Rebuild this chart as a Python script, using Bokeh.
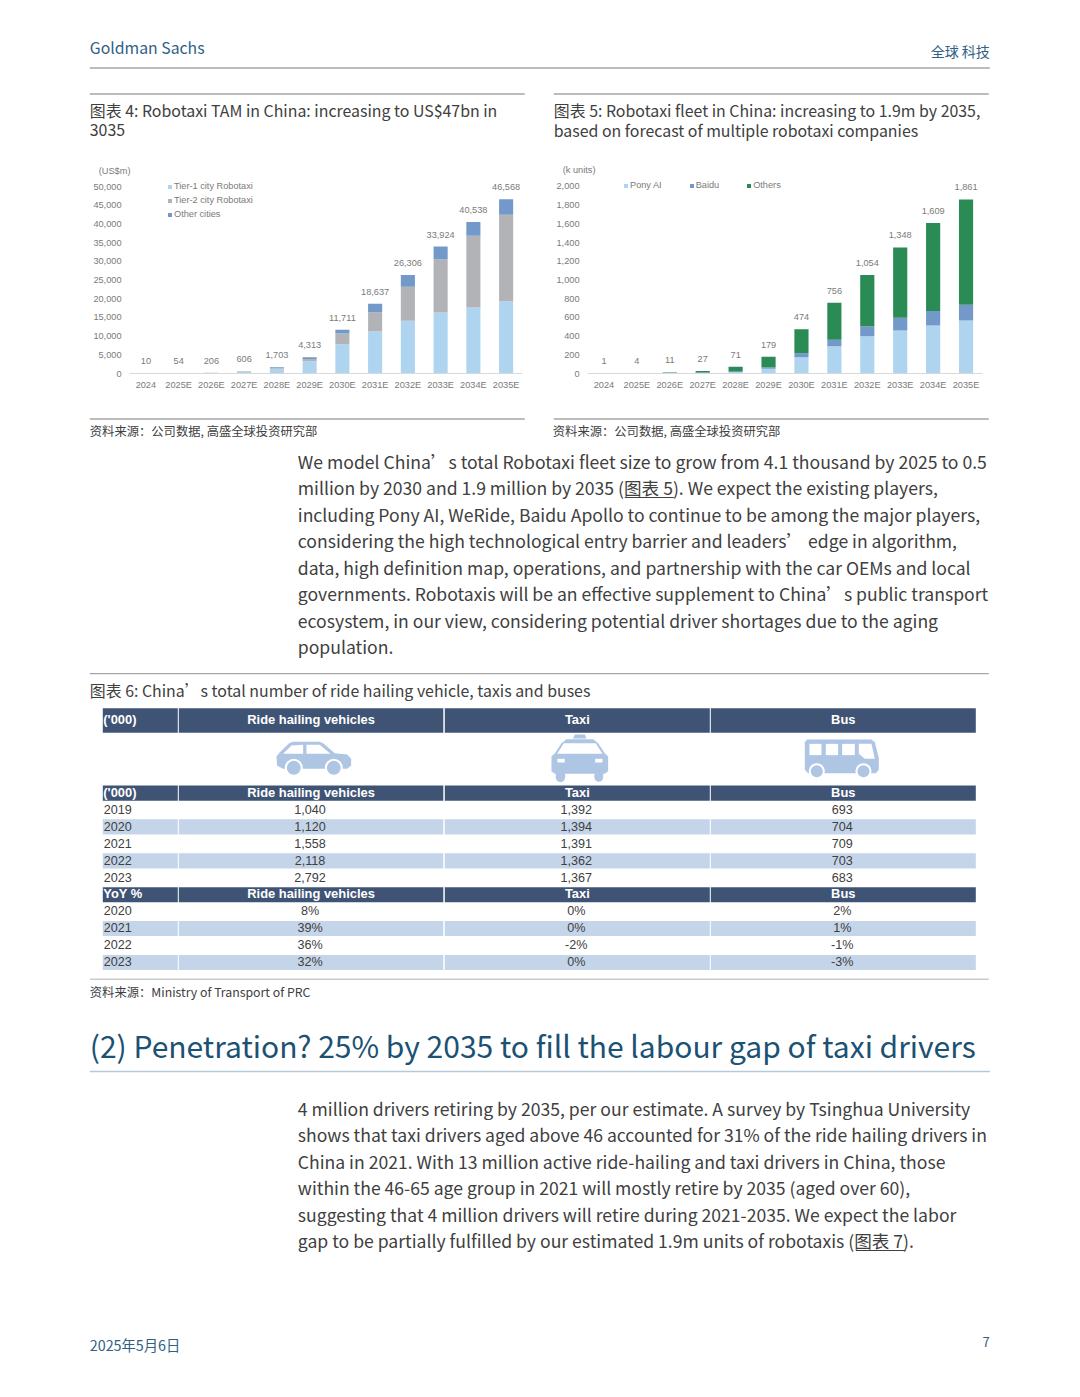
from bokeh.plotting import figure
from bokeh.layouts import column, row
from bokeh.models import Range1d, FactorRange, FixedTicker, NumeralTickFormatter, ColumnDataSource
from bokeh.core.properties import value
from bokeh.embed import file_html
from bokeh.resources import INLINE

# ---------- data ----------
years = ["2024","2025E","2026E","2027E","2028E","2029E","2030E","2031E","2032E","2033E","2034E","2035E"]
tam_tier1 = [7,40,150,450,1300,3300,7840,11230,14080,16310,17650,19340]
tam_tier2 = [2,7,30,80,200,600,2860,5170,9090,14260,19160,23080]
tam_other = [1,7,26,76,203,413,1011,2237,3136,3354,3728,4148]
tam_ticks = [0,5000,10000,15000,20000,25000,30000,35000,40000,45000,50000]

fleet_pony = [0.3,1,2,6,15,50,174,291,397,461,514,567]
fleet_baidu = [0.3,1,2,6,12,17,42,71,107,135,153,167]
fleet_others = [0.4,2,7,15,44,112,258,394,550,752,942,1127]
fleet_ticks = [0,200,400,600,800,1000,1200,1400,1600,1800,2000]

table_cols = ["Ride hailing vehicles","Taxi","Bus"]
level_years = ["2019","2020","2021","2022","2023"]
level_ride = ["1,040","1,120","1,558","2,118","2,792"]
level_taxi = ["1,392","1,394","1,391","1,362","1,367"]
level_bus = ["693","704","709","703","683"]
yoy_years = ["2020","2021","2022","2023"]
yoy_ride = ["8%","39%","36%","32%"]
yoy_taxi = ["0%","0%","-2%","0%"]
yoy_bus = ["2%","1%","-1%","-3%"]

body1 = ["We model China’s total Robotaxi fleet size to grow from 4.1 thousand by 2025 to 0.5",
 "million by 2030 and 1.9 million by 2035 (图表 5). We expect the existing players,",
 "including Pony AI, WeRide, Baidu Apollo to continue to be among the major players,",
 "considering the high technological entry barrier and leaders’ edge in algorithm,",
 "data, high definition map, operations, and partnership with the car OEMs and local",
 "governments. Robotaxis will be an effective supplement to China’s public transport",
 "ecosystem, in our view, considering potential driver shortages due to the aging",
 "population."]
body2 = ["4 million drivers retiring by 2035, per our estimate. A survey by Tsinghua University",
 "shows that taxi drivers aged above 46 accounted for 31% of the ride hailing drivers in",
 "China in 2021. With 13 million active ride-hailing and taxi drivers in China, those",
 "within the 46-65 age group in 2021 will mostly retire by 2035 (aged over 60),",
 "suggesting that 4 million drivers will retire during 2021-2035. We expect the labor",
 "gap to be partially fulfilled by our estimated 1.9m units of robotaxis (图表 7)."]

# ---------- layout constants ----------
W, TOP_H, CH_H = 1064, 176, 224
BODY = "Noto Sans CJK SC"
ARIAL = "Liberation Sans"
TXT, GREY = "#404040", "#7a7a7a"
RULE = "#a6a6a6"
TITLE_SZ, BODY_SZ, SRC_SZ = 15.9, 17.6, 12.3

def sheet(y0, y1):
    p = figure(width=W, height=y1-y0, x_range=Range1d(0.7, W+0.7), y_range=Range1d(y1, y0),
               x_axis_type=None, y_axis_type=None, toolbar_location=None, output_backend="svg",
               min_border=0, min_border_left=0, min_border_right=0, min_border_top=0, min_border_bottom=0)
    p.grid.visible = False
    p.outline_line_color = None
    return p

def put(p, x, y, t, size, color=TXT, font=BODY, align="left", style="normal"):
    shift = size*0.085 if font == BODY else 0.8
    p.text(x=[x], y=[y-shift], text=[t], text_font=value(font), text_font_size=f"{size}px",
           text_color=color, text_align=align, text_baseline="middle", text_font_style=style)

def rule(p, x0, x1, y, color=RULE, w=1.3):
    p.line([x0, x1], [y, y], line_color=color, line_width=w)

# ---------- top sheet ----------
top = sheet(0, TOP_H)
put(top, 90, 48, "Goldman Sachs", 15.8, "#2f6186")
put(top, 990, 52, "全球 科技", 14, "#2f6186", BODY, "right")
rule(top, 90, 990, 67.5)
rule(top, 90, 525, 93.5); rule(top, 554, 989, 93.5)
put(top, 90, 111, "图表 4: Robotaxi TAM in China: increasing to US$47bn in", TITLE_SZ)
put(top, 90, 131, "3035", TITLE_SZ)
put(top, 554, 111, "图表 5: Robotaxi fleet in China: increasing to 1.9m by 2035,", TITLE_SZ)
put(top, 554, 131, "based on forecast of multiple robotaxi companies", TITLE_SZ)
put(top, 99, 170.8, "(US$m)", 9.2, GREY, ARIAL)
put(top, 563, 170.5, "(k units)", 9.2, GREY, ARIAL)

# ---------- charts ----------
def chart(width, left, right, bottom, scale_px, ymax, ticks, series, names, colors, lx, ly, orient, spacing):
    frame_h = CH_H - 2 - bottom
    p = figure(width=width, height=CH_H, x_range=FactorRange(factors=years, range_padding=0, factor_padding=0),
               y_range=Range1d(0, ymax*frame_h/scale_px), toolbar_location=None, output_backend="svg",
               min_border_left=left, min_border_right=right, min_border_top=2, min_border_bottom=bottom)
    keys = ["a", "b", "c"]
    data = dict(x=years, **{k: s for k, s in zip(keys, series)})
    totals = [round(a+b+c) for a, b, c in zip(*series)]
    data["total"] = totals
    data["label"] = [f"{t:,}" for t in totals]
    src = ColumnDataSource(data)
    p.vbar_stack(keys, x="x", width=0.43, color=colors, source=src, legend_label=names, line_width=0)
    p.text(x="x", y="total", text="label", source=src, y_offset=-12, text_align="center", text_baseline="middle",
           text_font=value(ARIAL), text_font_size="9.2px", text_color=GREY)
    p.grid.visible = False
    p.outline_line_color = None
    p.yaxis.ticker = FixedTicker(ticks=ticks)
    p.yaxis.formatter = NumeralTickFormatter(format="0,0")
    p.yaxis.axis_line_color = None
    p.yaxis.major_tick_line_color = None
    p.yaxis.minor_tick_line_color = None
    p.xaxis.axis_line_color = "#d9d9d9"
    p.xaxis.major_tick_line_color = None
    p.xaxis.major_tick_out = 0
    p.yaxis.major_tick_out = 0
    p.xaxis.major_label_standoff = 6
    p.yaxis.major_label_standoff = 8
    for ax in (p.xaxis[0], p.yaxis[0]):
        ax.major_label_text_font = ARIAL
        ax.major_label_text_font_size = "9.2px"
        ax.major_label_text_color = GREY
    lg = p.legend[0]
    lg.location = (lx, ly)
    lg.orientation = orient
    lg.spacing = spacing
    lg.padding = 0
    lg.margin = 0
    lg.border_line_color = None
    lg.background_fill_alpha = 0
    lg.glyph_width = 5
    lg.glyph_height = 5
    lg.label_standoff = 2
    lg.label_height = 14
    lg.label_text_font = ARIAL
    lg.label_text_font_size = "9.2px"
    lg.label_text_color = GREY
    return p

left_chart = chart(536, 129, 14, 27, 187, 50000, tam_ticks, (tam_tier1, tam_tier2, tam_other),
                   ["Tier-1 city Robotaxi", "Tier-2 city Robotaxi", "Other cities"],
                   ["#aed4f0", "#b1b3b7", "#7299c9"], 38, 152, "vertical", 0)
right_chart = chart(528, 51, 82, 26, 188, 2000, fleet_ticks, (fleet_pony, fleet_baidu, fleet_others),
                    ["Pony AI", "Baidu", "Others"],
                    ["#aed4f0", "#7299c9", "#2a8b54"], 36, 181, "horizontal", 27)

# ---------- lower sheet ----------
low = sheet(400, 1380)
rule(low, 90, 525, 418.5); rule(low, 554, 989, 418.5)
put(low, 90, 432, "资料来源：公司数据, 高盛全球投资研究部", SRC_SZ)
put(low, 553, 432, "资料来源：公司数据, 高盛全球投资研究部", SRC_SZ)

for i, line in enumerate(body1):
    put(low, 298, 462.5 + i*26.45, line, BODY_SZ)
for i, line in enumerate(body2):
    put(low, 298, 1109.5 + i*26.45, line, BODY_SZ)
low.line([625, 674], [497, 497], line_color=TXT, line_width=1)
low.line([856, 905], [1250, 1250], line_color=TXT, line_width=1)

rule(low, 90, 989, 673.2)
put(low, 90, 691, "图表 6: China’s total number of ride hailing vehicle, taxis and buses", TITLE_SZ)

cols = [(103, 178), (179, 443.5), (445, 710), (711, 976)]
DARK, BAND, WHITE = "#3f5474", "#c5d5e9", "#ffffff"

def bar_row(y0, y1, color):
    low.quad(left=[c[0] for c in cols], right=[c[1] for c in cols], top=[y0]*4, bottom=[y1]*4,
             fill_color=color, line_width=0, line_color=None)

def head_row(y0, y1, first):
    bar_row(y0, y1, DARK)
    put(low, 103.5, (y0+y1)/2, first, 12.9, WHITE, ARIAL, "left", "bold")
    for (a, b), name in zip(cols[1:], table_cols):
        put(low, (a+b)/2, (y0+y1)/2, name, 12.9, WHITE, ARIAL, "center", "bold")

def data_row(yc, band, cells):
    if band:
        bar_row(yc-7.6, yc+7.6, BAND)
    put(low, 104, yc, cells[0], 12.6, TXT, ARIAL)
    for (a, b), t in zip(cols[1:], cells[1:]):
        put(low, (a+b)/2 - 1, yc, t, 12.6, TXT, ARIAL, "center")

head_row(707.7, 732.3, "('000)")
head_row(785, 800.3, "('000)")
for i, cells in enumerate(zip(level_years, level_ride, level_taxi, level_bus)):
    data_row(809.3 + i*17, i % 2 == 1, cells)
head_row(886.7, 901.7, "YoY %")
for i, cells in enumerate(zip(yoy_years, yoy_ride, yoy_taxi, yoy_bus)):
    data_row(911 + i*17, i % 2 == 1, cells)
rule(low, 90, 989, 978.7, "#cccccc", 1.5)
put(low, 90, 993, "资料来源：Ministry of Transport of PRC", SRC_SZ)

put(low, 90, 1047, "(2) Penetration? 25% by 2035 to fill the labour gap of taxi drivers", 30, "#1b5274")
rule(low, 90, 990, 1071, "#b5c9da", 1.3)
put(low, 90, 1345, "2025年5月6日", 14.3, "#2f6186")
put(low, 990, 1343, "7", 13, "#2f6186", BODY, "right")

# icons (page pixels from local outlines)
ICON = "#aec5e3"
def mapped(pts, ox, oy):
    return [a/3+ox for a, _ in pts], [b/3+oy for _, b in pts]
def poly(pts, ox, oy, color=ICON):
    xs, ys = mapped(pts, ox, oy)
    low.patch(xs, ys, fill_color=color, line_color=None)
def disc(cx, cy, r, ox, oy, color=ICON):
    low.ellipse(x=[cx/3+ox], y=[cy/3+oy], width=[2*r/3], height=[2*r/3], fill_color=color, line_color=None)
def box(x0, y0, x1, y1, ox, oy, color=ICON):
    poly([(x0,y0),(x1,y0),(x1,y1),(x0,y1)], ox, oy, color)

# car
ox, oy = 260, 730
poly([(50,78),(60,65),(88,38),(100,34),(180,34),(192,40),(225,68),(262,72),(274,85),(274,105),(262,115),(70,115),(52,106)], ox, oy)
for cx in (102, 222):
    disc(cx, 112, 27, ox, oy, WHITE); disc(cx, 112, 21, ox, oy)
poly([(70,70),(95,45),(130,43),(130,70)], ox, oy, WHITE)
poly([(140,43),(180,43),(212,70),(140,70)], ox, oy, WHITE)
# taxi
poly([(940,24),(945,12),(975,12),(980,24)], ox, oy)
poly([(905,38),(920,26),(1000,26),(1015,38),(1035,68),(1045,78),(1045,122),(1035,130),(885,130),(875,122),(875,78),(885,68)], ox, oy)
poly([(892,70),(912,38),(1008,38),(1028,70)], ox, oy, WHITE)
box(893,85,915,96, ox, oy, WHITE); box(1006,85,1028,96, ox, oy, WHITE)
for a, b in ((888,916),(1004,1030)):
    box(a,128,b,141, ox, oy); disc((a+b)/2,141,(b-a)/2, ox, oy)
# bus
ox, oy = 560, 670
poly([(735,215),(742,207),(935,207),(945,215),(957,262),(957,298),(948,308),(745,308),(735,298)], ox, oy)
box(749,220,785,254, ox, oy, WHITE); box(798,220,835,254, ox, oy, WHITE); box(847,220,885,254, ox, oy, WHITE)
poly([(897,220),(935,220),(945,265),(915,265),(897,250)], ox, oy, WHITE)
for cx in (771, 911):
    disc(cx,302,24, ox, oy, WHITE); disc(cx,302,18, ox, oy)

page = column(top, row(left_chart, right_chart, spacing=0), low, spacing=0)
open("out.html", "w").write(file_html(page, INLINE))
